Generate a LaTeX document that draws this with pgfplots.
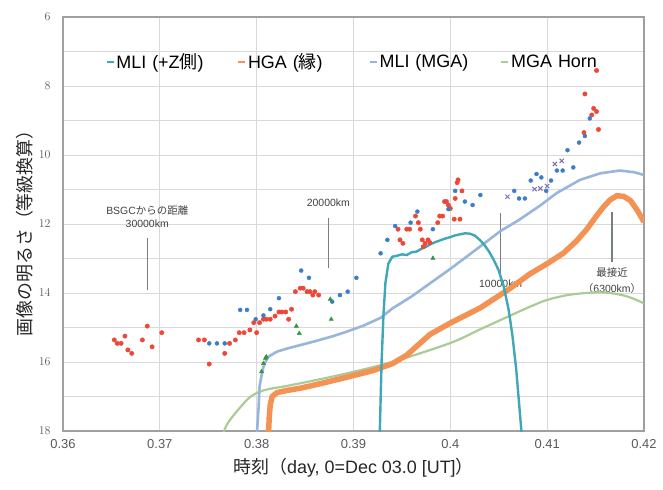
\documentclass[border=0pt]{standalone}
\usepackage{fontspec}
\setmainfont{Liberation Sans}
\newfontfamily\jp{Noto Sans CJK JP}
\usepackage{pgfplots}
\pgfplotsset{compat=1.18}
\definecolor{cTeal}{RGB}{62,168,182}
\definecolor{cOrange}{RGB}{243,146,82}
\definecolor{cLBlue}{RGB}{152,182,218}
\definecolor{cGreen}{RGB}{170,204,148}
\definecolor{cRed}{RGB}{238,70,55}
\definecolor{cBlue}{RGB}{60,125,200}
\definecolor{cDGreen}{RGB}{50,150,60}
\definecolor{cPurple}{RGB}{125,110,185}
\definecolor{cGrid}{RGB}{217,217,217}
\definecolor{cTick}{RGB}{89,89,89}
\definecolor{cAnn}{RGB}{120,128,125}
\begin{document}
\begin{tikzpicture}
\path[use as bounding box] (-63bp,-59bp) rectangle (600bp,431bp);
\begin{axis}[
  at={(0,0)}, anchor=south west,
  scale only axis, width=581bp, height=414bp,
  xmin=0.36, xmax=0.42, ymin=6, ymax=18, y dir=reverse,
  xtick={0.36,0.37,0.38,0.39,0.4,0.41,0.42},
  xticklabels={0.36,0.37,0.38,0.39,0.4,0.41,0.42},
  ytick={6,8,10,12,14,16,18},
  minor ytick={7,9,11,13,15,17},
  xmajorgrids, ymajorgrids, yminorgrids,
  grid style={cGrid, line width=0.9bp},
  minor grid style={cGrid, line width=0.9bp},
  major tick length=0pt, minor tick length=0pt,
  axis line style={draw=gray!75, line width=1.2bp},
  tick label style={font=\fontsize{13}{13}\selectfont, text=cTick},
  xticklabel style={yshift=-5bp},
  yticklabel style={xshift=-9bp},
  legend columns=4,
  legend style={at={(axis cs:0.36440,7.30)}, anchor=west, draw=none, fill=none,
     inner sep=0pt, font=\fontsize{18}{18}\selectfont,
     nodes={text width=119bp, align=left, inner xsep=2bp},
     /tikz/every even column/.style={column sep=0bp}},
  legend image code/.code={\draw[#1] (0bp,0bp) -- (7bp,0bp);},
]
\addlegendimage{cTeal, line width=1.6bp}
\addlegendentry{MLI (+Z{\jp 側})}
\addlegendimage{cOrange, line width=1.6bp}
\addlegendentry{HGA ({\jp 縁})}
\addlegendimage{cLBlue, line width=1.6bp}
\addlegendentry{MLI (MGA)}
\addlegendimage{cGreen, line width=1.6bp}
\addlegendentry{MGA Horn}

% annotations
\draw[cAnn, line width=1.2bp] (axis cs:0.3687,12.41) -- (axis cs:0.3687,13.91);
\draw[cAnn, line width=1.2bp] (axis cs:0.3874,11.83) -- (axis cs:0.3874,13.28);
\draw[cAnn, line width=1.2bp] (axis cs:0.4052,11.68) -- (axis cs:0.4052,13.42);
\draw[cAnn, line width=1.2bp] (axis cs:0.4167,11.65) -- (axis cs:0.4167,13.10);
\node[font=\fontsize{10.5}{10.5}\selectfont, text=black!75] at (axis cs:0.3687,11.62) {BSGC{\jp からの距離}};
\node[font=\fontsize{10.5}{10.5}\selectfont, text=black!75] at (axis cs:0.3687,12.00) {30000km};
\node[font=\fontsize{10.5}{10.5}\selectfont, text=black!75] at (axis cs:0.3874,11.39) {20000km};
\node[font=\fontsize{10.5}{10.5}\selectfont, text=black!75] at (axis cs:0.4052,13.74) {10000km};
\node[font=\fontsize{10.5}{10.5}\selectfont, text=black!75] at (axis cs:0.4167,13.42) {\jp 最接近};
\node[font=\fontsize{10.5}{10.5}\selectfont, text=black!75] at (axis cs:0.4167,13.88) {{\jp （}6300km{\jp ）}};

% MGA Horn
\addplot[cGreen, line width=2.2bp, smooth, forget plot] coordinates {
(0.3765,18.1) (0.3767,17.95) (0.3770,17.78) (0.3776,17.55) (0.3785,17.25) (0.3793,17.02)
(0.3803,16.86) (0.3815,16.77) (0.3828,16.71) (0.3862,16.52) (0.3896,16.31) (0.3940,16.0)
(0.4000,15.45) (0.4031,15.05) (0.4052,14.78) (0.4082,14.4) (0.4100,14.2) (0.4121,14.06)
(0.4140,14.0) (0.4155,13.98) (0.4170,14.02) (0.4185,14.12) (0.4200,14.3)};
% MLI (MGA)
\addplot[cLBlue, line width=2.6bp, forget plot] coordinates {
(0.3800,18.2) (0.3802,17.3) (0.3803,16.7) (0.3805,16.4) (0.3807,16.14) (0.3810,15.95)
(0.3812,15.85) (0.3816,15.78) (0.3821,15.7) (0.3830,15.62) (0.3845,15.51) (0.3860,15.4)
(0.3879,15.25) (0.3893,15.12) (0.3910,14.95) (0.3928,14.72) (0.3940,14.45) (0.3960,14.1)
(0.3980,13.7) (0.4000,13.3) (0.4020,12.88) (0.4052,12.2) (0.4070,11.9) (0.4093,11.46)
(0.4110,11.1) (0.4134,10.72) (0.4155,10.53) (0.4175,10.45) (0.4190,10.5) (0.4200,10.58)};
% HGA
\addplot[cOrange, line width=5.5bp, forget plot] coordinates {
(0.3812,18.2) (0.3813,17.6) (0.3814,17.25) (0.3816,17.0) (0.3821,16.89) (0.3830,16.83)
(0.3845,16.76) (0.3870,16.6) (0.3896,16.42) (0.3920,16.25) (0.3940,16.05) (0.3955,15.8)
(0.3979,15.2) (0.4000,14.87) (0.4031,14.43) (0.4060,13.9) (0.4082,13.45) (0.4100,13.15)
(0.4117,12.84) (0.4130,12.5) (0.4141,12.15) (0.4150,11.8) (0.4158,11.51) (0.4165,11.3)
(0.4172,11.18) (0.4179,11.2) (0.4186,11.32) (0.4193,11.6) (0.4200,11.94)};
% MLI (+Z)
\addplot[cTeal, line width=2.4bp, forget plot] coordinates {
(0.3927,18.2) (0.3929,16.0) (0.3931,14.6) (0.3933,13.7) (0.3936,13.15) (0.3940,12.95)
(0.3945,12.92) (0.3950,12.88) (0.3955,12.9) (0.3960,12.82) (0.3965,12.8) (0.3970,12.72)
(0.3975,12.66) (0.3980,12.58) (0.3985,12.52) (0.3990,12.47) (0.3995,12.42) (0.4000,12.38)
(0.4005,12.33) (0.4010,12.3) (0.4015,12.27) (0.4020,12.28) (0.4025,12.33) (0.4030,12.45)
(0.4035,12.6) (0.4040,12.8) (0.4045,13.05) (0.4050,13.35) (0.4055,13.8) (0.4060,14.45)
(0.4064,15.2) (0.4068,16.2) (0.4071,17.2) (0.4074,18.2)};

% red points
\addplot[only marks, mark=*, mark size=2.2bp, cRed, forget plot] coordinates {
(0.3653,15.36) (0.3656,15.46) (0.3660,15.46) (0.3664,15.25) (0.3667,15.65) (0.3671,15.75)
(0.3682,15.36) (0.3687,14.96) (0.3692,15.56) (0.3702,15.15) (0.3740,15.36) (0.3746,15.36)
(0.3751,16.06) (0.3767,15.75) (0.3772,15.46) (0.3778,15.36) (0.3782,15.15) (0.3787,15.15)
(0.3793,15.07) (0.3797,14.86) (0.3800,15.15) (0.3803,14.86) (0.3807,14.76) (0.3810,14.76)
(0.3814,14.76) (0.3819,14.67) (0.3823,14.55) (0.3826,14.55) (0.3830,14.55) (0.3833,14.76)
(0.3836,14.47) (0.3840,13.96) (0.3845,13.86) (0.3848,13.86) (0.3852,13.96) (0.3855,13.96)
(0.3858,14.06) (0.3860,13.96) (0.3864,14.06) (0.3946,12.15) (0.3948,12.46) (0.3951,12.56)
(0.3955,12.15) (0.3958,12.15) (0.3964,11.77) (0.3967,11.96) (0.3969,12.15) (0.3971,12.46)
(0.3972,12.66) (0.3974,12.56) (0.3977,12.46) (0.3979,12.54) (0.3987,11.96) (0.3989,11.77)
(0.3992,11.77) (0.3994,11.35) (0.3996,11.35) (0.3998,11.45) (0.4000,11.55) (0.4004,11.86)
(0.4005,11.26) (0.4007,10.80) (0.4008,10.72) (0.4010,11.86) (0.4012,11.04) (0.4138,9.35)
(0.4139,8.23) (0.4146,8.84) (0.4148,8.65) (0.4151,8.74) (0.4153,9.26) (0.4151,7.55)};
% blue points
\addplot[only marks, mark=*, mark size=2.0bp, cBlue, forget plot] coordinates {
(0.3751,15.46) (0.3759,15.46) (0.3767,15.46) (0.3783,14.49) (0.3790,14.49) (0.3799,14.76)
(0.3807,14.65) (0.3814,14.47) (0.3823,14.15) (0.3846,13.35) (0.3854,13.56) (0.3878,14.25)
(0.3886,14.06) (0.3894,13.96) (0.3903,13.56) (0.3928,12.85) (0.3935,12.46) (0.3943,12.06)
(0.3959,11.96) (0.3966,11.64) (0.3982,12.15) (0.3998,11.57) (0.4005,11.04) (0.4015,11.35)
(0.4023,11.45) (0.4031,11.16) (0.4066,11.04) (0.4071,11.26) (0.4077,11.26) (0.4083,10.74)
(0.4089,10.55) (0.4094,10.65) (0.4099,11.04) (0.4104,10.74) (0.4110,10.45) (0.4116,10.45)
(0.4121,9.86) (0.4127,10.36) (0.4133,9.64) (0.4139,9.45) (0.4144,8.94)};
% green triangles
\addplot[only marks, mark=triangle*, mark size=2.4bp, cDGreen, forget plot] coordinates {
(0.3805,16.28) (0.3807,16.04) (0.3809,15.89) (0.3810,15.85) (0.3841,14.96) (0.3844,15.17)
(0.3876,14.18) (0.3877,14.76) (0.3982,12.99)};
% purple x
\addplot[only marks, mark=x, mark size=3bp, cPurple, line width=1bp, forget plot] coordinates {
(0.4059,11.21) (0.4087,10.99) (0.4093,10.97) (0.4100,10.90) (0.4108,10.26) (0.4115,10.17)};
\end{axis}
\node[font=\fontsize{18}{18}\selectfont, text=black!85] at ([yshift=-37bp]current axis.south) {{\jp 時刻（}day, 0=Dec 03.0 [UT]{\jp ）}};
\node[font=\fontsize{18}{18}\selectfont, text=black!85, rotate=90] at (-38bp,202bp) {\jp 画像の明るさ（等級換算）};
\end{tikzpicture}
\end{document}
